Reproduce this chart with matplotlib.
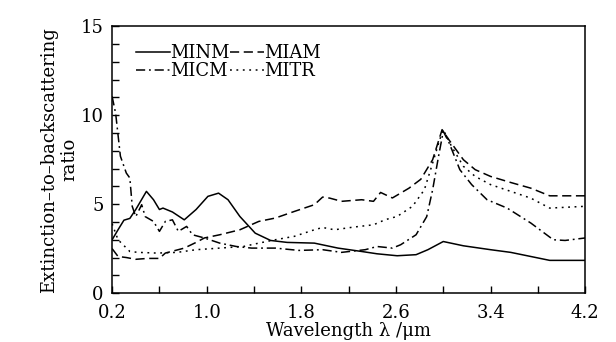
import numpy as np
import matplotlib
matplotlib.use("Agg")
import matplotlib.pyplot as plt
from matplotlib.ticker import MultipleLocator, FixedLocator

plt.rcParams["font.family"] = ["DejaVu Serif"]

# extinction-to-backscattering ratio vs wavelength
minm_x = [0.2, 0.25, 0.3, 0.35, 0.4, 0.49, 0.55, 0.6, 0.63, 0.71, 0.81, 0.91, 1.01, 1.1,
          1.18, 1.28, 1.41, 1.54, 1.68, 1.91, 2.11, 2.31, 2.44, 2.61, 2.77, 2.87, 3.0,
          3.17, 3.4, 3.57, 3.9, 4.2]
minm_y = [3.0, 3.56, 4.1, 4.2, 4.7, 5.72, 5.25, 4.7, 4.78, 4.56, 4.12, 4.7, 5.44, 5.62,
          5.25, 4.31, 3.37, 2.96, 2.85, 2.81, 2.53, 2.34, 2.21, 2.1, 2.16, 2.44, 2.9,
          2.66, 2.44, 2.29, 1.84, 1.84]

miam_x = [0.2, 0.25, 0.32, 0.4, 0.5, 0.6, 0.65, 0.81, 0.91, 0.98, 1.11, 1.28, 1.44, 1.58,
          1.74, 1.91, 1.98, 2.04, 2.14, 2.31, 2.41, 2.47, 2.54, 2.57, 2.71, 2.81, 2.91,
          2.99, 3.05, 3.17, 3.27, 3.4, 3.57, 3.74, 3.9, 4.2]
miam_y = [2.5, 2.06, 2.0, 1.9, 1.95, 1.95, 2.25, 2.53, 2.85, 3.1, 3.28, 3.56, 4.03, 4.22,
          4.59, 4.97, 5.4, 5.34, 5.16, 5.25, 5.16, 5.66, 5.44, 5.35, 5.9, 6.4, 7.5,
          9.19, 8.6, 7.5, 6.94, 6.56, 6.22, 5.9, 5.47, 5.47]

micm_x = [0.2, 0.23, 0.27, 0.32, 0.35, 0.37, 0.4, 0.45, 0.48, 0.55, 0.6, 0.65, 0.71, 0.76,
          0.83, 0.88, 0.98, 1.11, 1.25, 1.38, 1.58, 1.78, 1.98, 2.14, 2.34, 2.44, 2.57,
          2.64, 2.77, 2.86, 2.91, 2.96, 3.0, 3.05, 3.14, 3.24, 3.37, 3.54, 3.74, 3.93,
          4.03, 4.2]
micm_y = [11.06, 10.1, 7.7, 6.75, 6.47, 4.88, 4.3, 4.97, 4.3, 4.03, 3.47, 4.03, 4.12, 3.47,
          3.75, 3.28, 3.1, 2.81, 2.62, 2.53, 2.53, 2.4, 2.44, 2.29, 2.44, 2.62, 2.53,
          2.72, 3.28, 4.3, 5.81, 7.69, 9.1, 8.44, 6.94, 6.1, 5.25, 4.78, 3.94, 3.0,
          2.96, 3.1]

mitr_x = [0.2, 0.25, 0.35, 0.42, 0.58, 0.75, 0.91, 1.11, 1.31, 1.44, 1.58, 1.74, 1.91,
          1.98, 2.08, 2.24, 2.41, 2.51, 2.61, 2.74, 2.84, 2.91, 2.97, 3.0, 3.07, 3.17,
          3.27, 3.4, 3.57, 3.74, 3.9, 4.2]
mitr_y = [3.9, 3.0, 2.34, 2.29, 2.25, 2.29, 2.44, 2.53, 2.62, 2.81, 3.0, 3.19, 3.56,
          3.69, 3.56, 3.71, 3.84, 4.13, 4.31, 4.88, 5.81, 7.31, 8.63, 9.19, 8.25, 7.13,
          6.56, 6.1, 5.72, 5.34, 4.78, 4.88]

fig = plt.figure(figsize=(6.16, 3.42), dpi=100)
ax = fig.add_axes([0.182, 0.143, 0.768, 0.78])

lw = 1.1
l1, = ax.plot(minm_x, minm_y, color="black", lw=lw, ls="-", label="MINM")
l2, = ax.plot(miam_x, miam_y, color="black", lw=lw, ls=(0, (6, 3)), label="MIAM")
l3, = ax.plot(micm_x, micm_y, color="black", lw=lw, ls=(0, (6, 2.5, 1.2, 2.5)), label="MICM")
l4, = ax.plot(mitr_x, mitr_y, color="black", lw=lw, ls=(0, (1.2, 3)), label="MITR")

ax.set_xlim(0.2, 4.2)
ax.set_ylim(0, 15)
ax.xaxis.set_major_locator(FixedLocator([0.2, 1.0, 1.8, 2.6, 3.4, 4.2]))
ax.xaxis.set_minor_locator(FixedLocator([0.6, 1.4, 2.2, 3.0, 3.8]))
ax.yaxis.set_major_locator(MultipleLocator(5))
ax.yaxis.set_minor_locator(MultipleLocator(1))
ax.tick_params(which="both", direction="in", length=5, width=1, labelsize=13)
ax.tick_params(axis="x", pad=8)
ax.tick_params(axis="y", pad=6)
ax.set_xticklabels(["0.2", "1.0", "1.8", "2.6", "3.4", "4.2"])

for s in ax.spines.values():
    s.set_linewidth(1.1)

ax.set_xlabel("Wavelength λ /μm", fontsize=13, labelpad=0)
ax.set_ylabel("Extinction–to–backscattering\nratio", fontsize=13, linespacing=1.15, labelpad=2)

# legend fills column-wise, so order handles to read row-wise
ax.legend([l1, l3, l2, l4], ["MINM", "MICM", "MIAM", "MITR"], loc="upper left", ncol=2,
          frameon=False, fontsize=13, handlelength=1.9, handletextpad=0.0,
          columnspacing=0.0, labelspacing=0.0, borderpad=0.0,
          bbox_to_anchor=(0.206, 0.897), bbox_transform=fig.transFigure)

fig.savefig("out.png", dpi=100)
